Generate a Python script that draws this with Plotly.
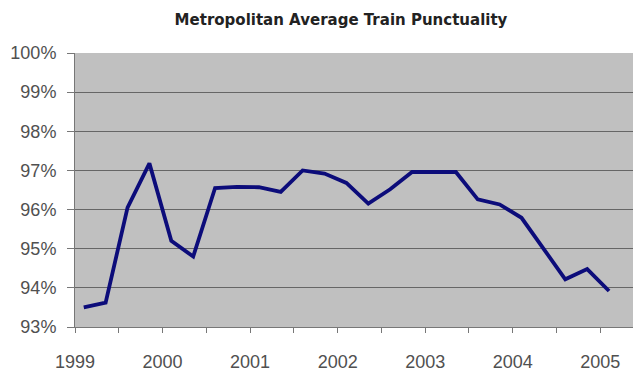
import plotly.graph_objects as go

# Quarterly observation times (decimal years) and punctuality (%)
quarters = [1999.10, 1999.35, 1999.60, 1999.85,
            2000.10, 2000.35, 2000.60, 2000.85,
            2001.10, 2001.35, 2001.60, 2001.85,
            2002.10, 2002.35, 2002.60, 2002.85,
            2003.10, 2003.35, 2003.60, 2003.85,
            2004.10, 2004.35, 2004.60, 2004.85,
            2005.10]
punctuality = [93.50, 93.62, 96.05, 97.18,
               95.20, 94.80, 96.55, 96.58,
               96.57, 96.45, 97.00, 96.92,
               96.68, 96.15, 96.52, 96.96,
               96.96, 96.96, 96.26, 96.13,
               95.79, 95.00, 94.22, 94.48,
               93.92]
year_ticks = [1999, 2000, 2001, 2002, 2003, 2004, 2005]
year_labels = ["1999", "2000", "2001", "2002", "2003", "2004", "2005"]
pct_ticks = [93, 94, 95, 96, 97, 98, 99, 100]
pct_labels = ["93%", "94%", "95%", "96%", "97%", "98%", "99%", "100%"]

fig = go.Figure()
fig.add_trace(go.Scatter(
    x=quarters, y=punctuality, mode="lines",
    line=dict(color="#0c0c7a", width=3.8),
    showlegend=False, hoverinfo="skip",
))

fig.update_layout(
    width=633, height=372,
    margin=dict(l=75, r=0, t=53, b=42),
    paper_bgcolor="white",
    plot_bgcolor="#c0c0c0",
    title=dict(text="<b>Metropolitan Average Train Punctuality</b>",
               x=341 / 633, xanchor="center", y=1 - 20 / 372, yanchor="middle",
               font=dict(family="DejaVu Sans, Verdana", size=15, color="#222222")),
    font=dict(family="Liberation Sans, Arial", size=18, color="#505050"),
)

fig.update_xaxes(
    range=[1999, 1999 + 558 / 87.55],
    tickvals=year_ticks, ticktext=year_labels,
    ticks="outside", ticklen=5, tickcolor="#777777",
    minor=dict(dtick=0.5, tick0=1999, ticks="outside", ticklen=5, tickcolor="#777777", showgrid=False),
    showgrid=False, zeroline=False,
    showline=True, linecolor="#777777", linewidth=1,
    ticklabelstandoff=13,
)
fig.update_yaxes(
    range=[93, 100],
    tickvals=pct_ticks, ticktext=pct_labels,
    ticks="outside", ticklen=7, tickcolor="#777777",
    showgrid=True, gridcolor="#666666", gridwidth=1.3,
    zeroline=False,
    showline=True, linecolor="#777777", linewidth=1,
    ticklabelstandoff=7,
)

fig.write_html("out.html")
